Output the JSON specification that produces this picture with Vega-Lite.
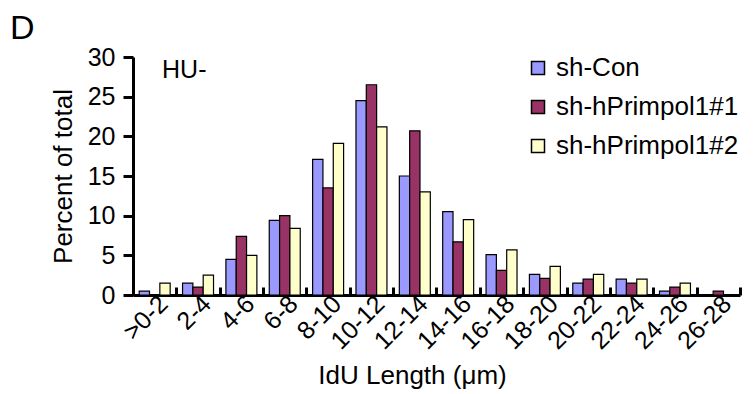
{
  "$schema": "https://vega.github.io/schema/vega-lite/v6.json",
  "width": 607,
  "height": 238,
  "autosize": "none",
  "padding": {"left": 133, "top": 57, "right": 14, "bottom": 99},
  "background": "white",
  "config": {
    "font": "Liberation Sans",
    "view": {"stroke": null},
    "axis": {"grid": false, "domainColor": "black", "tickColor": "black", "labelColor": "black", "titleColor": "black", "titleFontWeight": "normal", "labelFont": "Liberation Sans", "titleFont": "Liberation Sans"},
    "axisX": {"titleFontSize": 26, "titleX": 279, "titleY": 88, "titleAlign": "center", "titleBaseline": "alphabetic", "labelAngle": -45, "labelFontSize": 25, "labelPadding": 4, "labelOverlap": false, "tickBand": "extent", "tickSize": -8, "tickWidth": 3, "domainWidth": 3},
    "axisY": {"titleFontSize": 26, "titlePadding": 11, "labelOverlap": false, "labelFontSize": 25, "labelPadding": 8, "tickSize": 10, "tickWidth": 3, "domainWidth": 3}
  },
  "title": {"text": "D", "anchor": "start", "frame": "group", "dx": -123, "offset": -1, "fontSize": 34, "fontWeight": "normal", "color": "black", "font": "Liberation Sans"},
  "datasets": {
    "bars": [
      {"bin": ">0-2", "group": "sh-Con", "pct": 0.5},
      {"bin": ">0-2", "group": "sh-hPrimpol1#2", "pct": 1.5},
      {"bin": "2-4", "group": "sh-Con", "pct": 1.5},
      {"bin": "2-4", "group": "sh-hPrimpol1#1", "pct": 1.0},
      {"bin": "2-4", "group": "sh-hPrimpol1#2", "pct": 2.5},
      {"bin": "4-6", "group": "sh-Con", "pct": 4.5},
      {"bin": "4-6", "group": "sh-hPrimpol1#1", "pct": 7.4},
      {"bin": "4-6", "group": "sh-hPrimpol1#2", "pct": 5.0},
      {"bin": "6-8", "group": "sh-Con", "pct": 9.4},
      {"bin": "6-8", "group": "sh-hPrimpol1#1", "pct": 10.0},
      {"bin": "6-8", "group": "sh-hPrimpol1#2", "pct": 8.4},
      {"bin": "8-10", "group": "sh-Con", "pct": 17.1},
      {"bin": "8-10", "group": "sh-hPrimpol1#1", "pct": 13.5},
      {"bin": "8-10", "group": "sh-hPrimpol1#2", "pct": 19.1},
      {"bin": "10-12", "group": "sh-Con", "pct": 24.5},
      {"bin": "10-12", "group": "sh-hPrimpol1#1", "pct": 26.5},
      {"bin": "10-12", "group": "sh-hPrimpol1#2", "pct": 21.2},
      {"bin": "12-14", "group": "sh-Con", "pct": 15.0},
      {"bin": "12-14", "group": "sh-hPrimpol1#1", "pct": 20.7},
      {"bin": "12-14", "group": "sh-hPrimpol1#2", "pct": 13.0},
      {"bin": "14-16", "group": "sh-Con", "pct": 10.5},
      {"bin": "14-16", "group": "sh-hPrimpol1#1", "pct": 6.7},
      {"bin": "14-16", "group": "sh-hPrimpol1#2", "pct": 9.5},
      {"bin": "16-18", "group": "sh-Con", "pct": 5.1},
      {"bin": "16-18", "group": "sh-hPrimpol1#1", "pct": 3.1},
      {"bin": "16-18", "group": "sh-hPrimpol1#2", "pct": 5.7},
      {"bin": "18-20", "group": "sh-Con", "pct": 2.6},
      {"bin": "18-20", "group": "sh-hPrimpol1#1", "pct": 2.1},
      {"bin": "18-20", "group": "sh-hPrimpol1#2", "pct": 3.6},
      {"bin": "20-22", "group": "sh-Con", "pct": 1.5},
      {"bin": "20-22", "group": "sh-hPrimpol1#1", "pct": 2.0},
      {"bin": "20-22", "group": "sh-hPrimpol1#2", "pct": 2.6},
      {"bin": "22-24", "group": "sh-Con", "pct": 2.0},
      {"bin": "22-24", "group": "sh-hPrimpol1#1", "pct": 1.5},
      {"bin": "22-24", "group": "sh-hPrimpol1#2", "pct": 2.0},
      {"bin": "24-26", "group": "sh-Con", "pct": 0.5},
      {"bin": "24-26", "group": "sh-hPrimpol1#1", "pct": 1.0},
      {"bin": "24-26", "group": "sh-hPrimpol1#2", "pct": 1.5},
      {"bin": "26-28", "group": "sh-hPrimpol1#1", "pct": 0.5}
    ],
    "note": [{"label": "HU-", "bin": ">0-2", "pct": 28.3}]
  },
  "layer": [
    {
      "data": {"name": "bars"},
      "mark": {"type": "bar", "stroke": "black", "strokeWidth": 1.2},
      "encoding": {
        "x": {
          "field": "bin", "type": "nominal",
          "sort": [">0-2", "2-4", "4-6", "6-8", "8-10", "10-12", "12-14", "14-16", "16-18", "18-20", "20-22", "22-24", "24-26", "26-28"],
          "scale": {"domain": [">0-2", "2-4", "4-6", "6-8", "8-10", "10-12", "12-14", "14-16", "16-18", "18-20", "20-22", "22-24", "24-26", "26-28"], "paddingInner": 0, "paddingOuter": 0},
          "title": "IdU Length (μm)"
        },
        "xOffset": {
          "field": "group", "type": "nominal",
          "scale": {"domain": ["sh-Con", "sh-hPrimpol1#1", "sh-hPrimpol1#2"], "paddingInner": 0, "paddingOuter": 0.6}
        },
        "y": {
          "field": "pct", "type": "quantitative",
          "scale": {"domain": [0, 30], "nice": false},
          "title": "Percent of total",
          "axis": {"values": [0, 5, 10, 15, 20, 25, 30]}
        },
        "color": {
          "field": "group", "type": "nominal",
          "scale": {"domain": ["sh-Con", "sh-hPrimpol1#1", "sh-hPrimpol1#2"], "range": ["#9999FF", "#993366", "#FFFFCC"]},
          "legend": {"title": null, "orient": "none", "legendX": 392, "legendY": -2, "symbolType": "square", "symbolSize": 169, "symbolStrokeColor": "black", "symbolStrokeWidth": 1.5, "symbolOpacity": 1, "labelFontSize": 26, "labelLimit": 0, "labelColor": "black", "labelFont": "Liberation Sans", "labelOffset": 5, "rowPadding": 13}
        }
      }
    },
    {
      "data": {"name": "note"},
      "mark": {"type": "text", "align": "left", "baseline": "middle", "fontSize": 25, "font": "Liberation Sans", "color": "black"},
      "encoding": {
        "x": {"field": "bin", "type": "nominal", "bandPosition": 0.67, "title": "IdU Length (μm)"},
        "y": {"field": "pct", "type": "quantitative", "title": "Percent of total", "axis": {"values": [0, 5, 10, 15, 20, 25, 30]}},
        "text": {"field": "label"}
      }
    }
  ]
}
